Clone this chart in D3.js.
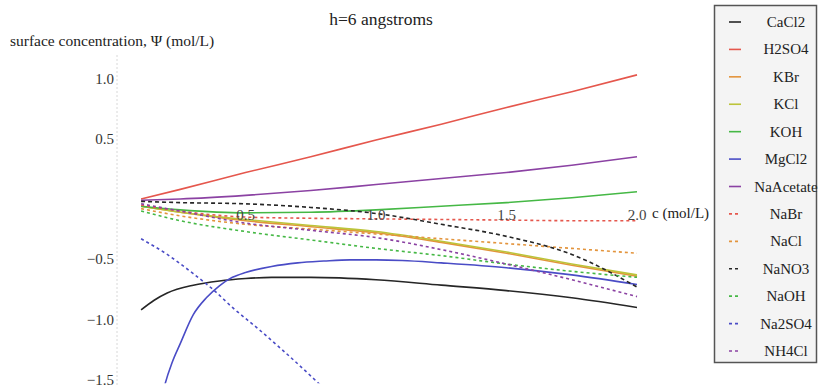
<!DOCTYPE html>
<html>
<head>
<meta charset="utf-8">
<script src="https://cdn.jsdelivr.net/npm/d3@7"></script>
<style>
  html, body { margin: 0; padding: 0; background: #fff; }
  svg { display: block; }
</style>
</head>
<body>
<svg id="chart" width="824" height="387"></svg>
<script>
// Surface concentration vs bulk concentration, h = 6 angstroms
const cGrid = [0.1, 0.25, 0.5, 0.75, 1.0, 1.25, 1.5, 1.75, 2.0];

const H2SO4     = [0.0, 0.08, 0.22, 0.35, 0.49, 0.62, 0.76, 0.89, 1.03];
const KBr       = [-0.06, -0.11, -0.18, -0.23, -0.28, -0.36, -0.45, -0.55, -0.64];
const KCl       = [-0.06, -0.11, -0.17, -0.22, -0.27, -0.35, -0.44, -0.54, -0.63];
const KOH       = [-0.06, -0.09, -0.115, -0.11, -0.09, -0.06, -0.03, 0.01, 0.06];
const NaAcetate = [-0.01, 0.0, 0.03, 0.07, 0.12, 0.17, 0.22, 0.28, 0.35];
const NaBr      = [-0.05, -0.1, -0.15, -0.16, -0.165, -0.17, -0.175, -0.18, -0.18];
const NaCl      = [-0.08, -0.14, -0.21, -0.25, -0.29, -0.33, -0.37, -0.41, -0.45];
const NaNO3     = [-0.02, -0.03, -0.04, -0.07, -0.12, -0.21, -0.31, -0.46, -0.73];
const NaOH      = [-0.1, -0.18, -0.27, -0.34, -0.41, -0.47, -0.54, -0.6, -0.65];
const NH4Cl     = [-0.04, -0.1, -0.2, -0.26, -0.32, -0.42, -0.54, -0.67, -0.81];

const cCaCl2 = [0.1, 0.15, 0.2, 0.3, 0.4, 0.5, 0.6, 0.75, 1.0, 1.25, 1.5, 1.75, 2.0];
const CaCl2  = [-0.92, -0.84, -0.78, -0.715, -0.68, -0.66, -0.65, -0.65, -0.67, -0.715, -0.76, -0.82, -0.9];

const cMgCl2 = [0.17, 0.19, 0.22, 0.25, 0.3, 0.35, 0.4, 0.45, 0.5, 0.6, 0.7, 0.8, 0.9, 1.0, 1.1, 1.25, 1.5, 1.75, 2.0];
const MgCl2  = [-1.75, -1.55, -1.35, -1.2, -0.96, -0.82, -0.72, -0.65, -0.61, -0.56, -0.53, -0.515, -0.505, -0.505, -0.51, -0.53, -0.57, -0.63, -0.71];

const cNa2SO4 = [0.1, 0.2, 0.3, 0.375, 0.45, 0.55, 0.64, 0.775, 0.85];
const Na2SO4  = [-0.33, -0.46, -0.62, -0.75, -0.9, -1.08, -1.25, -1.52, -1.68];

const xTicks = [0.5, 1.0, 1.5, 2.0];
const yTicks = [1.0, 0.5, -0.5, -1.0, -1.5];

const legendNames = ["CaCl2", "H2SO4", "KBr", "KCl", "KOH", "MgCl2", "NaAcetate",
                     "NaBr", "NaCl", "NaNO3", "NaOH", "Na2SO4", "NH4Cl"];

const palette = {
  black: "#262626", red: "#e5574d", orange: "#e3943c", olive: "#bcc43a",
  green: "#45b845", blue: "#4a4cc6", purple: "#8b42a3"
};

const series = [
  { name: "CaCl2",     c: cCaCl2,  v: CaCl2,     color: palette.black,  dash: null },
  { name: "H2SO4",     c: cGrid,   v: H2SO4,     color: palette.red,    dash: null },
  { name: "KBr",       c: cGrid,   v: KBr,       color: palette.orange, dash: null },
  { name: "KCl",       c: cGrid,   v: KCl,       color: palette.olive,  dash: null },
  { name: "KOH",       c: cGrid,   v: KOH,       color: palette.green,  dash: null },
  { name: "MgCl2",     c: cMgCl2,  v: MgCl2,     color: palette.blue,   dash: null },
  { name: "NaAcetate", c: cGrid,   v: NaAcetate, color: palette.purple, dash: null },
  { name: "NaBr",      c: cGrid,   v: NaBr,      color: palette.red,    dash: "3,3" },
  { name: "NaCl",      c: cGrid,   v: NaCl,      color: palette.orange, dash: "3,3" },
  { name: "NaNO3",     c: cGrid,   v: NaNO3,     color: palette.black,  dash: "4,3" },
  { name: "NaOH",      c: cGrid,   v: NaOH,      color: palette.green,  dash: "3,3" },
  { name: "Na2SO4",    c: cNa2SO4, v: Na2SO4,    color: palette.blue,   dash: "3,3" },
  { name: "NH4Cl",     c: cGrid,   v: NH4Cl,     color: palette.purple, dash: "3,3" }
];

const SERIF = "'Liberation Serif', 'Times New Roman', Times, 'DejaVu Serif', serif";

const svg = d3.select("#chart")
  .attr("font-family", SERIF);

const x = d3.scaleLinear().domain([0, 2]).range([115, 637]);
const y = d3.scaleLinear().domain([0, 1]).range([199, 78.5]);

// clip region for the plotted curves
svg.append("defs").append("clipPath").attr("id", "plotClip")
  .append("rect").attr("x", 115).attr("y", 50).attr("width", 540).attr("height", y(-1.53) - 50);

// faint vertical axis
svg.append("line")
  .attr("x1", 117).attr("x2", 117).attr("y1", 55).attr("y2", 387)
  .attr("stroke", "#d8d8d8").attr("stroke-width", 1).attr("stroke-dasharray", "2,2");

// y tick labels
svg.append("g").selectAll("text").data(yTicks).join("text")
  .attr("x", 114).attr("y", d => y(d) + 5)
  .attr("text-anchor", "end").attr("font-size", 15).attr("font-family", SERIF).attr("fill", "#333")
  .text(d => d3.format(".1f")(d).replace("-", "\u2212"));

// curves
const line = d3.line().curve(d3.curveMonotoneX);
const plot = svg.append("g").attr("clip-path", "url(#plotClip)");
plot.selectAll("path").data(series).join("path")
  .attr("d", s => line(s.c.map((c, i) => [x(c), y(s.v[i])])))
  .attr("fill", "none")
  .attr("stroke", s => s.color)
  .attr("stroke-width", 1.6)
  .attr("stroke-dasharray", s => s.dash);

// x tick labels sit on the curves
svg.append("g").selectAll("text").data(xTicks).join("text")
  .attr("x", d => x(d)).attr("y", y(0) + 21)
  .attr("text-anchor", "middle").attr("font-size", 15).attr("font-family", SERIF).attr("fill", "#444")
  .text(d => d3.format(".1f")(d));

// axis labels and title
svg.append("text").attr("x", 652).attr("y", 218).attr("font-size", 15).attr("font-family", SERIF)
  .attr("fill", "#222").text("c (mol/L)");
svg.append("text").attr("x", 10).attr("y", 46).attr("font-size", 15.5).attr("font-family", SERIF)
  .attr("fill", "#222").text("surface concentration, \u03A8 (mol/L)");
svg.append("text").attr("x", 381).attr("y", 25).attr("text-anchor", "middle").attr("font-size", 17.5)
  .attr("font-family", SERIF).attr("fill", "#222").text("h=6 angstroms");

// legend
const lg = svg.append("g");
lg.append("rect").attr("x", 714.5).attr("y", 5.5).attr("width", 102).attr("height", 357)
  .attr("fill", "#f4f4f4").attr("stroke", "#555").attr("stroke-width", 1.5);
const row = d3.scalePoint().domain(legendNames).range([22, 351]);
const items = lg.selectAll("g.item").data(series).join("g").attr("class", "item")
  .attr("transform", s => `translate(0,${row(s.name)})`);
items.append("line")
  .attr("x1", 729).attr("x2", 741).attr("y1", 0).attr("y2", 0)
  .attr("stroke", s => s.color).attr("stroke-width", 1.6)
  .attr("stroke-dasharray", s => s.dash ? "3,3" : null);
items.append("text").attr("x", 786).attr("y", 5)
  .attr("text-anchor", "middle").attr("font-size", 15).attr("font-family", SERIF)
  .attr("fill", "#222").text(s => s.name);
</script>
</body>
</html>
